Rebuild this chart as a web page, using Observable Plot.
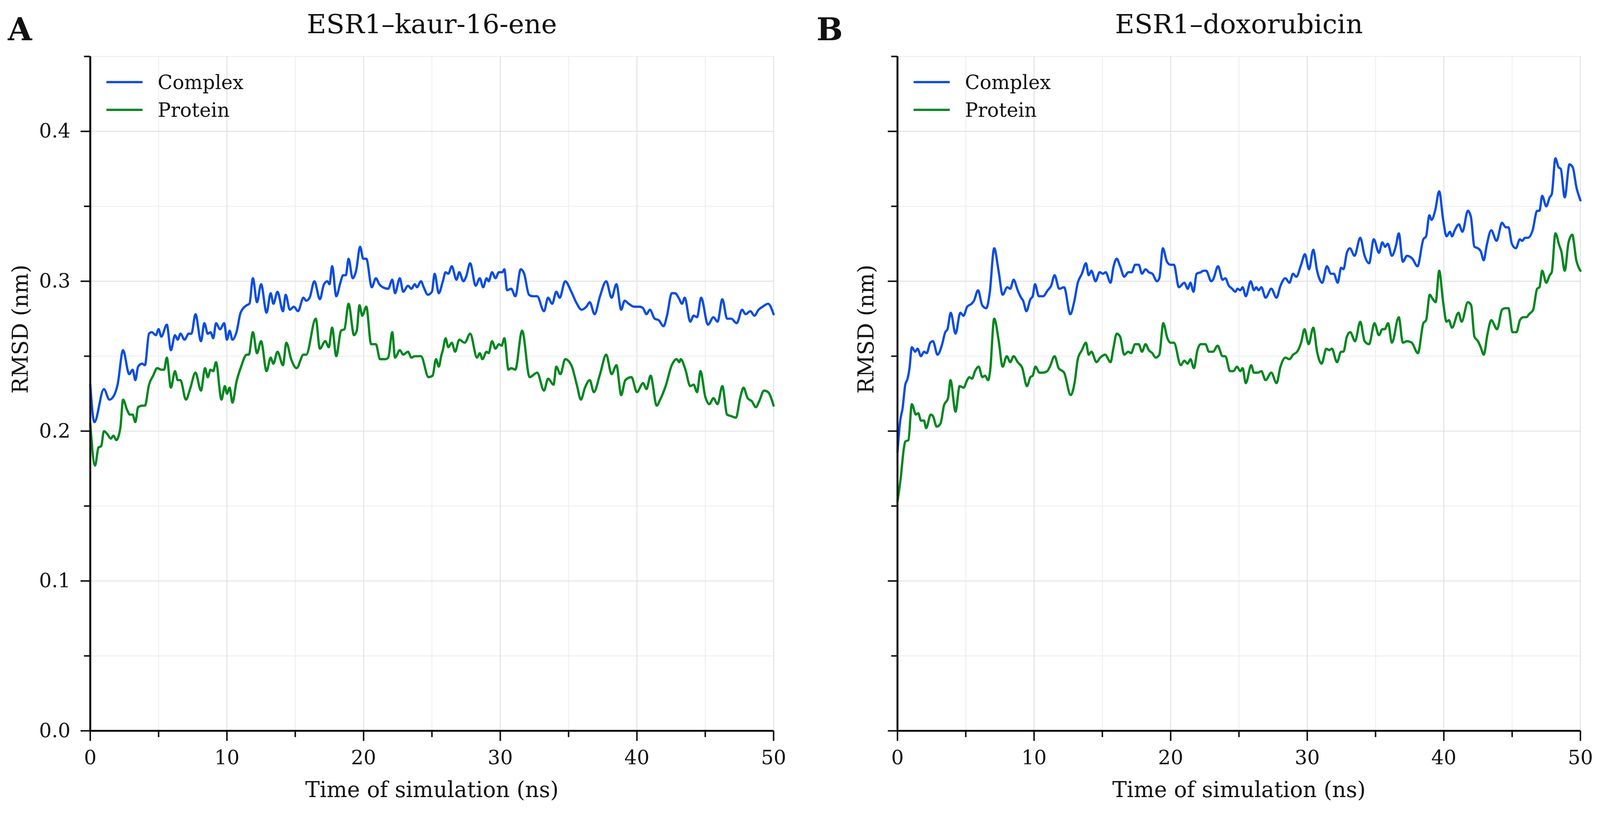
<!DOCTYPE html>
<html>
<head>
<meta charset="utf-8">
<script src="https://cdn.jsdelivr.net/npm/d3@7"></script>
<script src="https://cdn.jsdelivr.net/npm/@observablehq/plot@0.6"></script>
<style>
  html, body { margin: 0; padding: 0; background: #ffffff; overflow: hidden; }
  #wrap { display: flex; flex-wrap: nowrap; }
  #wrap > div { flex: none; }
  #wrap svg { display: block; max-width: none !important; }
</style>
</head>
<body>
<div id="wrap"><div id="panelA"></div><div id="panelB"></div></div>
<script>
// ---------------- DATA ----------------
const panelTitles = ["ESR1–kaur-16-ene", "ESR1–doxorubicin"];
const panelLetters = ["A", "B"];
const seriesNames = ["Complex", "Protein"];
const seriesColors = ["#0a4de0", "#00861f"];
const xLabel = "Time of simulation (ns)";
const yLabel = "RMSD (nm)";
const xMajorTicks = [0, 10, 20, 30, 40, 50];
const xMinorTicks = [5, 15, 25, 35, 45];
const yMajorTicks = [0, 0.1, 0.2, 0.3, 0.4];
const yMinorTicks = [0.05, 0.15, 0.25, 0.35, 0.45];

// Panel A: ESR1–kaur-16-ene, Complex
const aComplexTime = [0,0.3,1.0,1.4,1.75,2.0,2.4,2.85,3.1,3.3,3.5,3.8,4.0,4.3,4.5,4.8,5.0,5.2,5.6,5.9,6.2,6.4,6.6,6.9,7.2,7.4,7.7,8.1,8.35,8.6,8.8,9.0,9.2,9.5,9.8,10.0,10.2,10.4,10.7,11.0,11.45,11.65,11.9,12.2,12.5,12.9,13.2,13.4,13.7,14.1,14.3,14.6,14.9,15.2,15.6,15.8,16.05,16.4,16.8,17.1,17.35,17.5,17.7,18.0,18.3,18.5,18.7,18.9,19.2,19.45,19.75,19.97,20.2,20.6,20.9,21.15,21.4,21.8,22.1,22.3,22.65,22.9,23.25,23.5,23.75,23.9,24.2,24.4,24.7,25.0,25.2,25.5,25.8,26.0,26.2,26.45,26.8,27.0,27.3,27.5,27.8,28.2,28.5,28.75,29.0,29.15,29.4,29.65,29.9,30.15,30.3,30.5,30.8,31.1,31.5,31.75,32.1,32.35,32.7,33.2,33.5,33.8,34.1,34.35,34.75,35.2,35.55,35.95,36.3,36.55,36.9,37.3,37.75,38.15,38.5,38.85,39.1,39.4,39.8,40.2,40.45,40.7,40.95,41.3,41.6,41.95,42.2,42.55,42.8,43.05,43.3,43.5,43.9,44.15,44.4,44.7,45.2,45.6,45.9,46.25,46.6,46.9,47.3,47.7,47.95,48.3,48.6,48.9,49.2,49.6,50.0];
const aComplexRmsd = [0.231,0.206,0.228,0.221,0.224,0.231,0.254,0.238,0.241,0.234,0.243,0.245,0.244,0.265,0.266,0.264,0.268,0.263,0.271,0.254,0.264,0.261,0.265,0.261,0.265,0.265,0.278,0.260,0.272,0.265,0.266,0.262,0.272,0.268,0.272,0.261,0.267,0.261,0.266,0.279,0.284,0.285,0.302,0.286,0.298,0.279,0.292,0.285,0.293,0.280,0.291,0.281,0.283,0.280,0.289,0.287,0.289,0.300,0.288,0.298,0.300,0.298,0.310,0.290,0.299,0.304,0.304,0.315,0.302,0.307,0.323,0.315,0.315,0.296,0.302,0.298,0.296,0.295,0.301,0.292,0.302,0.293,0.297,0.295,0.298,0.296,0.300,0.296,0.291,0.293,0.305,0.292,0.300,0.306,0.305,0.310,0.301,0.306,0.300,0.303,0.312,0.297,0.302,0.296,0.302,0.300,0.306,0.302,0.306,0.306,0.308,0.294,0.295,0.290,0.308,0.305,0.291,0.290,0.290,0.280,0.289,0.285,0.293,0.289,0.300,0.293,0.286,0.281,0.283,0.286,0.278,0.290,0.300,0.289,0.298,0.281,0.287,0.285,0.283,0.283,0.282,0.278,0.281,0.275,0.274,0.270,0.277,0.292,0.292,0.289,0.285,0.289,0.273,0.277,0.276,0.289,0.271,0.276,0.273,0.288,0.275,0.275,0.272,0.281,0.278,0.280,0.277,0.281,0.283,0.285,0.278];

// Panel A: Protein
const aProteinTime = [0,0.35,0.6,0.8,1.0,1.25,1.5,1.7,1.9,2.2,2.4,2.7,2.9,3.1,3.3,3.5,3.85,4.0,4.3,4.6,4.9,5.2,5.4,5.6,5.9,6.2,6.4,6.6,7.0,7.3,7.7,8.1,8.4,8.6,8.8,9.0,9.2,9.6,9.85,10.0,10.2,10.4,10.7,11.0,11.45,11.6,11.9,12.2,12.5,12.9,13.2,13.4,13.7,14.1,14.35,14.7,15.1,15.6,15.8,16.5,16.8,17.2,17.45,17.7,18.0,18.35,18.6,18.9,19.3,19.5,19.7,19.9,20.2,20.55,20.9,21.2,21.6,21.8,22.1,22.3,22.65,22.9,23.25,23.5,23.75,24.2,24.75,25.05,25.3,25.5,25.7,25.8,26.0,26.2,26.45,26.7,27.0,27.4,27.8,28.3,28.5,28.7,29.0,29.15,29.4,29.65,29.9,30.1,30.3,30.6,30.8,31.1,31.6,32.15,32.7,33.2,33.5,33.9,34.1,34.4,34.75,35.2,35.6,35.9,36.2,36.55,36.85,37.3,37.75,38.15,38.5,38.85,39.15,39.6,40.0,40.45,40.7,41.0,41.45,41.7,42.1,42.55,42.9,43.1,43.2,43.55,43.9,44.15,44.4,44.65,45.0,45.3,45.6,45.9,46.25,46.6,46.9,47.25,47.55,47.8,48.1,48.4,48.7,48.95,49.3,49.6,50.0];
const aProteinRmsd = [0.205,0.177,0.189,0.190,0.200,0.198,0.195,0.197,0.194,0.202,0.221,0.214,0.211,0.211,0.206,0.216,0.217,0.217,0.231,0.237,0.242,0.241,0.241,0.249,0.229,0.240,0.234,0.234,0.221,0.228,0.239,0.227,0.242,0.236,0.241,0.240,0.246,0.221,0.230,0.225,0.229,0.219,0.233,0.242,0.251,0.251,0.266,0.252,0.260,0.240,0.249,0.245,0.253,0.244,0.259,0.248,0.242,0.251,0.251,0.275,0.255,0.260,0.256,0.269,0.250,0.267,0.268,0.285,0.264,0.267,0.284,0.277,0.283,0.258,0.258,0.248,0.248,0.249,0.266,0.249,0.254,0.251,0.253,0.249,0.250,0.250,0.236,0.237,0.248,0.243,0.251,0.254,0.262,0.256,0.259,0.253,0.261,0.259,0.265,0.249,0.252,0.248,0.253,0.252,0.260,0.255,0.258,0.257,0.262,0.241,0.242,0.241,0.267,0.236,0.239,0.227,0.235,0.231,0.243,0.238,0.248,0.244,0.231,0.221,0.229,0.234,0.226,0.238,0.251,0.238,0.244,0.224,0.234,0.236,0.226,0.232,0.228,0.237,0.217,0.221,0.230,0.244,0.248,0.246,0.248,0.241,0.230,0.231,0.226,0.240,0.223,0.218,0.222,0.218,0.230,0.211,0.210,0.209,0.222,0.229,0.222,0.220,0.216,0.220,0.227,0.226,0.217];

// Panel B: ESR1–doxorubicin, Complex
const bComplexTime = [0,0.2,0.37,0.57,0.74,0.88,1.05,1.3,1.47,1.72,1.94,2.14,2.4,2.6,2.93,3.24,3.5,3.66,3.9,4.25,4.6,4.84,5.1,5.43,5.6,5.9,6.2,6.5,6.75,7.08,7.4,7.7,8.04,8.26,8.5,8.8,9.05,9.2,9.44,9.73,9.9,10.07,10.35,10.66,11.0,11.25,11.5,11.84,12.2,12.65,12.93,13.2,13.5,13.8,14.0,14.2,14.5,14.8,15.04,15.24,15.6,15.8,16.05,16.3,16.6,16.9,17.15,17.4,17.66,17.9,18.16,18.4,18.66,19.0,19.17,19.43,19.73,20.0,20.24,20.6,21.0,21.25,21.45,21.67,21.9,22.2,22.4,22.6,22.97,23.1,23.47,23.8,24.0,24.26,24.5,24.73,24.9,25.1,25.27,25.5,25.86,26.1,26.27,26.44,26.64,26.95,27.37,27.75,28.04,28.4,28.7,28.96,29.2,29.55,29.83,30.13,30.44,30.72,31.1,31.44,31.73,31.95,32.23,32.48,32.65,32.9,33.12,33.46,33.88,34.2,34.53,34.87,35.25,35.5,35.7,35.9,36.2,36.5,36.7,37.0,37.3,37.7,38.07,38.5,38.7,38.94,39.1,39.36,39.66,39.95,40.2,40.45,40.6,40.8,41.1,41.36,41.76,41.98,42.24,42.5,42.7,42.92,43.14,43.47,43.86,44.26,44.53,44.73,44.98,45.27,45.57,45.74,45.94,46.16,46.5,46.83,47.0,47.2,47.5,47.75,47.9,48.17,48.4,48.56,48.85,49.2,49.44,49.7,50.0];
const bComplexRmsd = [0.186,0.207,0.215,0.231,0.235,0.242,0.256,0.253,0.255,0.250,0.253,0.252,0.259,0.260,0.251,0.257,0.266,0.268,0.279,0.265,0.279,0.277,0.283,0.285,0.287,0.294,0.284,0.282,0.292,0.322,0.307,0.291,0.296,0.295,0.301,0.294,0.289,0.287,0.280,0.288,0.290,0.298,0.290,0.290,0.294,0.297,0.304,0.295,0.296,0.278,0.286,0.299,0.305,0.312,0.304,0.307,0.300,0.306,0.305,0.306,0.299,0.309,0.315,0.310,0.303,0.306,0.306,0.311,0.311,0.305,0.308,0.306,0.305,0.300,0.302,0.322,0.313,0.311,0.311,0.296,0.299,0.295,0.299,0.293,0.305,0.306,0.307,0.307,0.300,0.301,0.310,0.301,0.302,0.297,0.295,0.293,0.295,0.294,0.296,0.290,0.300,0.294,0.296,0.294,0.296,0.289,0.295,0.289,0.297,0.302,0.299,0.305,0.303,0.311,0.318,0.308,0.321,0.307,0.299,0.310,0.305,0.305,0.299,0.309,0.308,0.319,0.322,0.317,0.329,0.317,0.312,0.328,0.319,0.326,0.323,0.325,0.317,0.324,0.332,0.313,0.317,0.315,0.310,0.328,0.330,0.344,0.341,0.347,0.360,0.341,0.330,0.333,0.330,0.334,0.338,0.333,0.347,0.343,0.323,0.322,0.320,0.314,0.324,0.334,0.327,0.339,0.336,0.336,0.325,0.322,0.328,0.327,0.329,0.329,0.334,0.347,0.347,0.357,0.350,0.356,0.358,0.382,0.376,0.375,0.356,0.378,0.376,0.363,0.354];

// Panel B: Protein
const bProteinTime = [0,0.24,0.46,0.57,0.8,1.05,1.35,1.52,1.72,1.94,2.1,2.43,2.6,2.87,3.15,3.4,3.7,3.88,4.25,4.55,4.84,5.1,5.26,5.46,5.68,5.94,6.22,6.4,6.64,6.78,7.08,7.4,7.7,8.0,8.26,8.5,8.8,9.14,9.48,9.73,9.9,10.1,10.4,10.66,10.96,11.16,11.5,11.8,12.2,12.68,12.98,13.2,13.5,13.8,14.0,14.2,14.57,14.84,15.2,15.6,15.8,16.05,16.3,16.6,16.9,17.1,17.4,17.66,17.9,18.16,18.4,18.66,18.9,19.17,19.46,19.76,20.0,20.24,20.74,21.0,21.25,21.45,21.7,21.96,22.2,22.55,22.8,23.1,23.44,23.8,24.0,24.35,24.6,24.85,25.1,25.27,25.5,25.9,26.1,26.4,26.64,26.95,27.37,27.75,28.04,28.4,28.7,28.96,29.26,29.55,29.8,30.1,30.44,30.72,31.05,31.4,31.6,31.8,32.18,32.48,32.65,32.9,33.15,33.5,33.88,34.2,34.53,34.92,35.25,35.5,35.67,35.92,36.2,36.7,37.0,37.3,37.65,38.1,38.5,38.7,38.97,39.2,39.4,39.66,39.95,40.2,40.37,40.6,41.07,41.3,41.76,42.0,42.24,42.5,42.7,42.92,43.2,43.47,43.9,44.26,44.48,44.73,45.03,45.32,45.57,45.82,46.04,46.24,46.54,46.83,47.0,47.2,47.5,47.75,47.9,48.17,48.45,48.6,48.85,49.13,49.4,49.7,50.0];
const bProteinRmsd = [0.153,0.169,0.188,0.193,0.194,0.218,0.211,0.212,0.207,0.207,0.202,0.211,0.210,0.203,0.205,0.217,0.222,0.234,0.213,0.230,0.229,0.234,0.236,0.235,0.240,0.243,0.236,0.237,0.234,0.240,0.275,0.261,0.243,0.250,0.246,0.250,0.246,0.242,0.230,0.236,0.237,0.243,0.239,0.239,0.240,0.243,0.250,0.242,0.239,0.224,0.233,0.248,0.254,0.259,0.251,0.253,0.246,0.249,0.251,0.246,0.255,0.265,0.263,0.251,0.253,0.252,0.258,0.258,0.253,0.258,0.254,0.252,0.249,0.251,0.272,0.262,0.259,0.259,0.244,0.247,0.245,0.248,0.242,0.254,0.258,0.258,0.253,0.253,0.257,0.250,0.250,0.240,0.240,0.243,0.240,0.242,0.232,0.244,0.239,0.239,0.240,0.234,0.239,0.232,0.243,0.249,0.248,0.251,0.253,0.259,0.268,0.258,0.269,0.253,0.245,0.255,0.254,0.255,0.246,0.253,0.253,0.263,0.266,0.260,0.273,0.260,0.258,0.272,0.264,0.268,0.268,0.272,0.259,0.276,0.259,0.260,0.259,0.252,0.272,0.274,0.291,0.288,0.286,0.307,0.286,0.273,0.274,0.269,0.279,0.273,0.286,0.284,0.263,0.260,0.256,0.251,0.265,0.274,0.268,0.281,0.282,0.282,0.266,0.266,0.274,0.276,0.276,0.278,0.281,0.295,0.296,0.307,0.299,0.304,0.306,0.332,0.324,0.320,0.307,0.326,0.331,0.314,0.307];

// ---------------- DRAWING ----------------
const FONT = "DejaVu Serif";
const W = 2105, H = 2114;

function toRows(times, values, series) {
  return times.map((t, i) => ({time: t, rmsd: values[i], series}));
}

function legendMark(index, scales, values, dimensions) {
  const ml = dimensions && dimensions.marginLeft != null ? dimensions.marginLeft : 237;
  const mt = dimensions && dimensions.marginTop != null ? dimensions.marginTop : 148;
  const g = d3.create("svg:g");
  seriesNames.forEach((name, i) => {
    const yLine = mt + 68 + i * 73;
    g.append("line")
      .attr("x1", ml + 43).attr("x2", ml + 138)
      .attr("y1", yLine).attr("y2", yLine)
      .attr("stroke", seriesColors[i]).attr("stroke-width", 6);
    g.append("text")
      .attr("x", ml + 178).attr("y", yLine + 18)
      .attr("text-anchor", "start")
      .attr("font-family", FONT).attr("font-size", 51)
      .attr("fill", "#111")
      .text(name);
  });
  return g.node();
}

function panel(k, complexT, complexV, proteinT, proteinV, mLeft, mRight, showYLabels, yLabelDx, letterDx) {
  const data = [
    ...toRows(complexT, complexV, seriesNames[0]),
    ...toRows(proteinT, proteinV, seriesNames[1])
  ];
  return Plot.plot({
    width: W,
    height: H,
    marginLeft: mLeft,
    marginRight: mRight,
    marginTop: 148,
    marginBottom: 192,
    style: {fontFamily: FONT, fontSize: "52px", background: "white", color: "#111", overflow: "visible"},
    x: {domain: [0, 50]},
    y: {domain: [0, 0.45]},
    color: {domain: seriesNames, range: seriesColors},
    marks: [
      Plot.gridX(xMinorTicks, {stroke: "#efefef", strokeOpacity: 1, strokeWidth: 2.5}),
      Plot.gridY(yMinorTicks, {stroke: "#efefef", strokeOpacity: 1, strokeWidth: 2.5}),
      Plot.gridX(xMajorTicks.slice(1), {stroke: "#e2e2e2", strokeOpacity: 1, strokeWidth: 2.5}),
      Plot.gridY(yMajorTicks.slice(1), {stroke: "#e2e2e2", strokeOpacity: 1, strokeWidth: 2.5}),
      Plot.line(data, {x: "time", y: "rmsd", z: "series", stroke: "series", strokeWidth: 6, curve: "monotone-x"}),
      Plot.ruleX([0], {stroke: "black", strokeWidth: 5}),
      Plot.ruleY([0], {stroke: "black", strokeWidth: 5}),
      Plot.axisX({ticks: xMajorTicks, tickSize: 27, tickPadding: 24, tickFormat: d => String(d), strokeWidth: 4, fontSize: 52, label: null, fill: "#111"}),
      Plot.axisX({ticks: xMinorTicks, tickSize: 17, tickFormat: () => "", strokeWidth: 4, label: null}),
      Plot.axisY({ticks: yMajorTicks, tickSize: 25, tickPadding: 27, tickFormat: showYLabels ? (d => d.toFixed(1)) : () => "", strokeWidth: 4, fontSize: 52, label: null, fill: "#111"}),
      Plot.axisY({ticks: yMinorTicks, tickSize: 16, tickFormat: () => "", strokeWidth: 4, label: null}),
      Plot.text([panelTitles[k]], {frameAnchor: "top", dy: -61, lineAnchor: "bottom", fontSize: 70, fill: "#111"}),
      Plot.text([panelLetters[k]], {frameAnchor: "top-left", dx: letterDx, dy: -43, textAnchor: "start", lineAnchor: "bottom", fontSize: 82, fontWeight: "bold", fill: "#111"}),
      Plot.text([yLabel], {frameAnchor: "left", rotate: -90, dx: yLabelDx, lineAnchor: "bottom", fontSize: 57, fill: "#111"}),
      Plot.text([xLabel], {frameAnchor: "bottom", dy: 174, lineAnchor: "bottom", fontSize: 57, fill: "#111"}),
      legendMark
    ]
  });
}

const svgA = panel(0, aComplexTime, aComplexRmsd, aProteinTime, aProteinRmsd, 237, 70, true, -165, -217);
const svgB = panel(1, bComplexTime, bComplexRmsd, bProteinTime, bProteinRmsd, 256, 52, false, -63, -213);
document.getElementById("panelA").append(svgA);
document.getElementById("panelB").append(svgB);

// Fit the 4210×2114 design into whatever viewport the browser actually has.
function fit() {
  const vw = window.innerWidth || document.documentElement.clientWidth || 4210;
  const vh = window.innerHeight || document.documentElement.clientHeight || 2114;
  const s = Math.min(vw / (2 * W), vh / H);
  for (const svg of [svgA, svgB]) {
    svg.style.width = (W * s) + "px";
    svg.style.height = (H * s) + "px";
    if (!svg.getAttribute("viewBox")) svg.setAttribute("viewBox", `0 0 ${W} ${H}`);
  }
}
fit();
window.addEventListener("resize", fit);
</script>
</body>
</html>
